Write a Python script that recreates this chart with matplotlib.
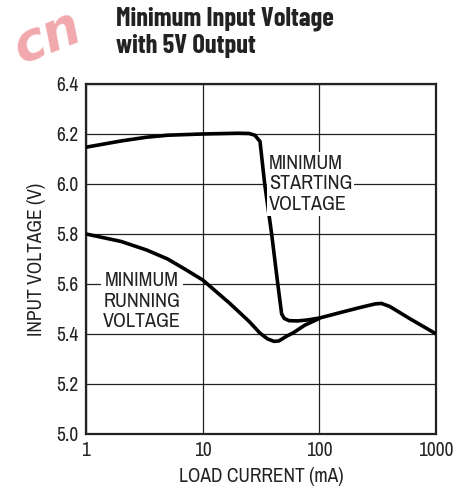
import matplotlib.pyplot as plt

plt.rcParams['font.family'] = ['Archivo Narrow', 'DejaVu Sans']

# values (load current in mA, input voltage in V)
start_current = [1, 2, 3.3, 5, 10, 20, 25, 28, 31, 34, 39, 44, 47.5, 50, 55, 65,
                 80, 101, 150, 220, 300, 340, 400, 600, 1000]
start_voltage = [6.147, 6.172, 6.187, 6.195, 6.200, 6.203, 6.202, 6.195, 6.17, 6.0,
                 5.8, 5.6, 5.48, 5.462, 5.453, 5.452, 5.456, 5.464, 5.485, 5.505,
                 5.52, 5.522, 5.51, 5.46, 5.40]
run_current = [1, 2, 3.3, 5, 7, 10, 17, 25, 31, 36, 41, 45, 52, 60, 75, 101]
run_voltage = [5.80, 5.77, 5.736, 5.70, 5.66, 5.616, 5.523, 5.45, 5.403, 5.38,
               5.37, 5.372, 5.39, 5.405, 5.435, 5.463]

x_ticks = [1, 10, 100, 1000]
x_tick_labels = ['1', '10', '100', '1000']
y_ticks = [5.0, 5.2, 5.4, 5.6, 5.8, 6.0, 6.2, 6.4]

fig = plt.figure(figsize=(4.72, 4.97), dpi=100)
ax = fig.add_axes([0.182, 0.127, 0.742, 0.704])

ax.plot(start_current, start_voltage, color='black', lw=2.6, solid_capstyle='butt', zorder=3)
ax.plot(run_current, run_voltage, color='black', lw=2.6, solid_capstyle='butt', zorder=3)

ax.set_xscale('log')
ax.set_xlim(1, 1000)
ax.set_ylim(5.0, 6.4)
ax.set_xticks(x_ticks)
ax.set_xticklabels(x_tick_labels)
ax.minorticks_off()
ax.set_yticks(y_ticks)
ax.set_yticklabels([f'{v:.1f}' for v in y_ticks])
ax.tick_params(labelsize=14, length=0, pad=5, colors='#222222')
ax.grid(True, color='#222222', lw=0.9)
for s in ax.spines.values():
    s.set_linewidth(1.6)
    s.set_color('#222222')

ax.set_xlabel('LOAD CURRENT (mA)', fontsize=14, color='#222222', labelpad=5)
ax.set_ylabel('INPUT VOLTAGE (V)', fontsize=14, color='#222222', labelpad=8)

box = dict(facecolor='white', edgecolor='none', pad=1.5)
ax.text(37, 6.0, 'MINIMUM\nSTARTING\nVOLTAGE', fontsize=14.5, ha='left', va='center',
        linespacing=1.1, bbox=box, zorder=4, color='#222222')
ax.text(3.0, 5.53, 'MINIMUM\nRUNNING\nVOLTAGE', fontsize=14.5, ha='center', va='center',
        linespacing=1.1, bbox=box, zorder=2, color='#222222')

fig.text(0.246, 0.962, 'Minimum Input Voltage', fontsize=19, fontweight='bold',
         family='Barlow Condensed', ha='left', va='center', color='#222222')
fig.text(0.246, 0.908, 'with 5V Output', fontsize=19, fontweight='bold',
         family='Barlow Condensed', ha='left', va='center', color='#222222')
# faint watermark in the top-left corner
fig.text(0.012, 0.925, 'cn', fontsize=38, fontweight='bold', style='italic',
         family='DejaVu Sans', color='#e0404a', alpha=0.45, rotation=22,
         ha='left', va='center')

fig.savefig('out.png', dpi=100)
